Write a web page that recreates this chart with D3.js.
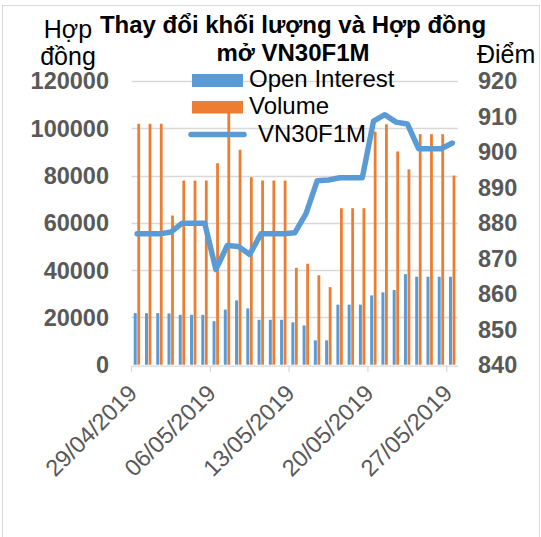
<!DOCTYPE html>
<html>
<head>
<meta charset="utf-8">
<script src="https://cdn.jsdelivr.net/npm/d3@7"></script>
<style>
  html, body { margin: 0; padding: 0; background: #fff; }
  text { font-family: "Liberation Sans", Arial, sans-serif; }
</style>
</head>
<body>
<svg id="chart" width="541" height="537"></svg>
<script>
// categories: one per calendar day, weekend values carried forward
const dates = [
    "29/04/2019", "30/04/2019", "01/05/2019", "02/05/2019", "03/05/2019", "04/05/2019", "05/05/2019",
    "06/05/2019", "07/05/2019", "08/05/2019", "09/05/2019", "10/05/2019", "11/05/2019", "12/05/2019",
    "13/05/2019", "14/05/2019", "15/05/2019", "16/05/2019", "17/05/2019", "18/05/2019", "19/05/2019",
    "20/05/2019", "21/05/2019", "22/05/2019", "23/05/2019", "24/05/2019", "25/05/2019", "26/05/2019",
    "27/05/2019"
];

const openInterest = [
    21800, 21800, 21800, 21700, 21100, 21100, 21100,
    18400, 23300, 27200, 23800, 19000, 19000, 19000,
    17900, 16600, 10300, 10300, 25400, 25400, 25400,
    29300, 30600, 31600, 38300, 37200, 37200, 37200,
    37200
];

const volume = [
    101900, 101900, 101900, 63100, 77900, 77900, 77900,
    85200, 107000, 90900, 79300, 77900, 77900, 77900,
    41000, 42700, 37800, 32800, 66200, 66200, 66200,
    98600, 101700, 90200, 82600, 97500, 97500, 97500,
    80000
];

const vn30 = [
    876.9, 876.9, 876.9, 877.4, 879.9, 879.9, 879.9,
    866.8, 873.6, 873.3, 871.1, 876.9, 876.9, 876.9,
    877.2, 882.6, 891.9, 892.1, 892.7, 892.7, 892.7,
    908.7, 910.5, 908.4, 907.9, 900.9, 900.9, 900.9,
    902.5
];

const leftTicks = [0, 20000, 40000, 60000, 80000, 100000, 120000];
const rightTicks = [840, 850, 860, 870, 880, 890, 900, 910, 920];
const titleLines = ["Thay đổi khối lượng và Hợp đồng", "mở VN30F1M"];
const seriesNames = ["Open Interest", "Volume", "VN30F1M"];

const blue = "#5b9bd5";
const orange = "#ed7d31";
const gridColor = "#d9d9d9";
const labelColor = "#595959";

const svg = d3.select("#chart");

const plot = { left: 131.5, right: 458, top: 81, bottom: 364.7 };

const x = d3.scaleBand()
    .domain(dates)
    .range([plot.left, plot.right])
    .padding(0);

const yLeft = d3.scaleLinear()
    .domain([0, 120000])
    .range([plot.bottom, plot.top]);

const yRight = d3.scaleLinear()
    .domain([840, 920])
    .range([plot.bottom, plot.top]);

// chart border
svg.append("rect")
    .attr("x", 2.5)
    .attr("y", 5.5)
    .attr("width", 537)
    .attr("height", 540)
    .attr("fill", "none")
    .attr("stroke", gridColor);

// gridlines
svg.append("g")
    .selectAll("line")
    .data(leftTicks.slice(1))
    .join("line")
    .attr("x1", plot.left)
    .attr("x2", plot.right)
    .attr("y1", d => Math.round(yLeft(d)) + 0.5)
    .attr("y2", d => Math.round(yLeft(d)) + 0.5)
    .attr("stroke", gridColor)
    .attr("stroke-width", 1.3);

// bars
const bw = x.bandwidth();
svg.append("g")
    .selectAll("rect")
    .data(dates)
    .join("rect")
    .attr("x", d => x(d) + bw / 2 - 3.4)
    .attr("width", 3)
    .attr("y", (d, i) => yLeft(openInterest[i]))
    .attr("height", (d, i) => yLeft(0) - yLeft(openInterest[i]))
    .attr("fill", blue);

svg.append("g")
    .selectAll("rect")
    .data(dates)
    .join("rect")
    .attr("x", d => x(d) + bw / 2 + 0.2)
    .attr("width", 2.8)
    .attr("y", (d, i) => yLeft(volume[i]))
    .attr("height", (d, i) => yLeft(0) - yLeft(volume[i]))
    .attr("fill", orange);

// x axis line and ticks
const xAxis = svg.append("g");
xAxis.append("line")
    .attr("x1", plot.left)
    .attr("x2", plot.right)
    .attr("y1", plot.bottom + 1.5)
    .attr("y2", plot.bottom + 1.5)
    .attr("stroke", gridColor)
    .attr("stroke-width", 1.3);

const tickDates = dates.filter((d, i) => i % 7 === 0);
xAxis.selectAll(".tick")
    .data(tickDates)
    .join("line")
    .attr("class", "tick")
    .attr("x1", d => x(d))
    .attr("x2", d => x(d))
    .attr("y1", plot.bottom + 1.5)
    .attr("y2", plot.bottom + 7)
    .attr("stroke", gridColor)
    .attr("stroke-width", 1.3);

xAxis.selectAll(".xlabel")
    .data(tickDates)
    .join("text")
    .attr("class", "xlabel")
    .attr("transform", d => `translate(${x(d) + 7},${plot.bottom + 30}) rotate(-45)`)
    .attr("text-anchor", "end")
    .attr("font-size", 23.5)
    .attr("fill", labelColor)
    .text(d => d);

// y axis labels
svg.append("g")
    .selectAll("text")
    .data(leftTicks)
    .join("text")
    .attr("x", 109)
    .attr("y", d => yLeft(d))
    .attr("dy", "0.36em")
    .attr("text-anchor", "end")
    .attr("font-size", 23.5)
    .attr("font-weight", "bold")
    .attr("fill", labelColor)
    .text(d => d);

svg.append("g")
    .selectAll("text")
    .data(rightTicks)
    .join("text")
    .attr("x", 478)
    .attr("y", d => yRight(d))
    .attr("dy", "0.36em")
    .attr("text-anchor", "start")
    .attr("font-size", 23.5)
    .attr("font-weight", "bold")
    .attr("fill", labelColor)
    .text(d => d);

// VN30F1M line
const line = d3.line()
    .x((d, i) => x(dates[i]) + bw / 2)
    .y(d => yRight(d));

svg.append("path")
    .datum(vn30)
    .attr("d", line)
    .attr("fill", "none")
    .attr("stroke", blue)
    .attr("stroke-width", 5.5)
    .attr("stroke-linejoin", "round")
    .attr("stroke-linecap", "round");

// axis titles
svg.append("text")
    .attr("text-anchor", "middle")
    .attr("font-size", 25)
    .selectAll("tspan")
    .data(["Hợp", "đồng"])
    .join("tspan")
    .attr("x", 68)
    .attr("y", (d, i) => 38 + i * 27)
    .text(d => d);

svg.append("text")
    .attr("x", 477)
    .attr("y", 63)
    .attr("font-size", 25)
    .text("Điểm");

// chart title
svg.append("text")
    .attr("text-anchor", "middle")
    .attr("font-size", 24)
    .attr("font-weight", "bold")
    .selectAll("tspan")
    .data(titleLines)
    .join("tspan")
    .attr("x", 293)
    .attr("y", (d, i) => 33 + i * 28)
    .text(d => d);

// legend
const legend = svg.append("g");
legend.append("rect")
    .attr("x", 192).attr("y", 74)
    .attr("width", 51).attr("height", 13)
    .attr("fill", blue);
legend.append("rect")
    .attr("x", 192).attr("y", 101)
    .attr("width", 51).attr("height", 12.5)
    .attr("fill", orange);
legend.append("line")
    .attr("x1", 191).attr("x2", 244)
    .attr("y1", 134.5).attr("y2", 134.5)
    .attr("stroke", blue)
    .attr("stroke-width", 5.5)
    .attr("stroke-linecap", "round");

legend.selectAll("text")
    .data(seriesNames)
    .join("text")
    .attr("x", (d, i) => i === 2 ? 258 : 249)
    .attr("y", (d, i) => 87 + i * 27.3)
    .attr("font-size", 24)
    .text(d => d);
</script>
</body>
</html>
